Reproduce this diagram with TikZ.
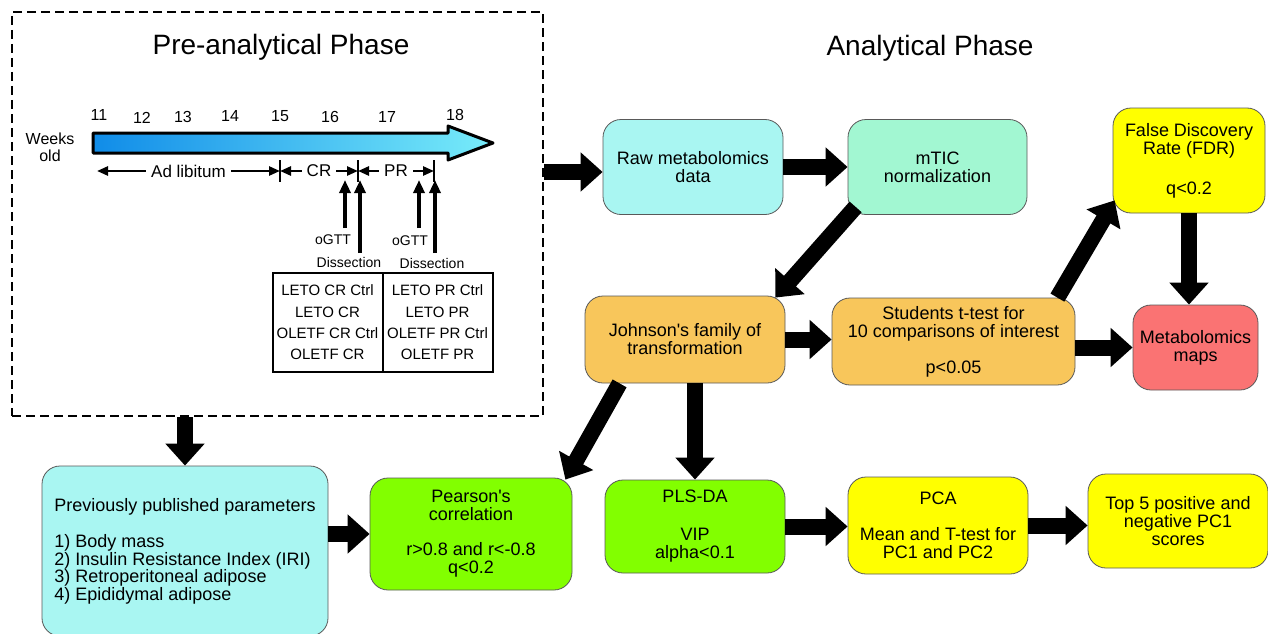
\documentclass[tikz,border=0pt]{standalone}
\usepackage{fontspec}
\setmainfont{Liberation Sans}
\usepackage{xcolor}
\definecolor{flow-cyan}{HTML}{A9F6F2}
\definecolor{flow-mint}{HTML}{A2F7D2}
\definecolor{flow-yellow}{HTML}{FFFF00}
\definecolor{flow-orange}{HTML}{F8C65B}
\definecolor{flow-red}{HTML}{FA7373}
\definecolor{flow-green}{HTML}{82FF00}
\definecolor{week-blue}{RGB}{16,140,232}
\definecolor{week-cyan}{RGB}{120,236,250}
\usepackage{tikz}
\usetikzlibrary{arrows.meta,positioning}

\tikzset{
  flowbox/.style={draw=black!65, line width=0.8pt, rounded corners=18pt, align=center,
    inner sep=0pt, font=\fontsize{18}{18}\selectfont},
  bigarrow/.style={line width=16pt, -{Triangle[length=22pt,width=38pt]}},
  thinarrow/.style={line width=3.5pt, -{Triangle[length=13pt,width=11pt]}},
  spanarrow/.style={line width=2.5pt, {Triangle[length=11pt,width=9pt]}-{Triangle[length=11pt,width=9pt]}},
  spantick/.style={line width=2.5pt},
  spanlabel/.style={fill=white, inner sep=5pt, font=\fontsize{17}{17}\selectfont},
  weeklabel/.style={inner sep=0pt, font=\fontsize{16}{17}\selectfont},
  smalllabel/.style={inner sep=0pt, font=\fontsize{14}{14}\selectfont},
  grouptable/.style={draw, line width=2pt, minimum width=110pt, minimum height=99pt,
    align=center, inner sep=0pt, font=\fontsize{15}{21.3}\selectfont},
  phasetitle/.style={inner sep=0pt, font=\fontsize{28}{30}\selectfont}
}

\begin{document}
\begin{tikzpicture}[x=1pt,y=-1pt]

    % Page size
    \useasboundingbox (0,0) rectangle (1268,634);
    \clip (0,0) rectangle (1268,634);

  % Pre-analytical frame and titles
  \node[draw, line width=2.5pt, dash pattern=on 9pt off 5pt, minimum width=531pt,
    minimum height=404pt, inner sep=0pt] (pre) at (277.5,214) {};
  \node[phasetitle] (pretitle) at (281,47) {Pre-analytical Phase};
  \node[phasetitle] (antitle) at (930,48) {Analytical Phase};

  % Time line
  \shadedraw[left color=week-blue, right color=week-cyan, line width=3pt, line join=round]
    (93,133) -- (448,133) -- (448,126) -- (493,143) -- (448,160) -- (448,153) -- (93,153) -- cycle;
  \node[weeklabel, align=center] (weeks) at (50,147) {Weeks\\old};
  \foreach \w/\x/\y in {11/99/115,12/142/118,13/183/117,14/230/116,15/280/116,16/330/117,17/387/117,18/455/115}
    \node[weeklabel] (w\w) at (\x,\y) {\w};

  % Feeding periods
  \coordinate (p0) at (97,171);
  \coordinate (p1) at (280,171);
  \coordinate (p2) at (358,171);
  \coordinate (p3) at (434,171);
  \draw[spanarrow] (p0) -- node[spanlabel] (adlib) {Ad libitum} (p1);
  \draw[spanarrow] (p1) -- node[spanlabel] (cr) {CR} (p2);
  \draw[spanarrow] (p2) -- node[spanlabel] (pr) {PR} (p3);
  \foreach \q in {p1,p2,p3}
    \draw[spantick] ([yshift=11pt]\q) -- ([yshift=-11pt]\q);

  % oGTT and dissection
  \coordinate (cr-ogtt) at (345,228);
  \coordinate (cr-cut) at (360,253);
  \coordinate (pr-ogtt) at (419,228);
  \coordinate (pr-cut) at (435,253);
  \draw[thinarrow] (cr-ogtt) -- ([yshift=-9pt]cr-ogtt |- p2);
  \draw[thinarrow] (cr-cut) -- ([yshift=-9pt]cr-cut |- p2);
  \draw[thinarrow] (pr-ogtt) -- ([yshift=-9pt]pr-ogtt |- p3);
  \draw[thinarrow] (pr-cut) -- ([yshift=-9pt]pr-cut |- p3);
  \node[smalllabel] (ogtt1) at (333,240) {oGTT};
  \node[smalllabel] (cut1) at (349,262) {Dissection};
  \node[smalllabel] (ogtt2) at (410,241) {oGTT};
  \node[smalllabel] (cut2) at (432,263) {Dissection};

  % Groups
  \node[grouptable] (crgroups) at (327.5,322.5) {LETO CR Ctrl\\LETO CR\\OLETF CR Ctrl\\OLETF CR};
  \node[grouptable] (prgroups) at (437.5,322.5) {LETO PR Ctrl\\LETO PR\\OLETF PR Ctrl\\OLETF PR};

  % Analytical boxes
  \node[flowbox, fill=flow-cyan, minimum width=180pt, minimum height=95pt] (raw) at (693,167)
    {Raw metabolomics\\data};
  \node[flowbox, fill=flow-mint, minimum width=179pt, minimum height=95pt] (mtic) at (937.5,167)
    {mTIC\\normalization};
  \node[flowbox, fill=flow-yellow, minimum width=152pt, minimum height=105pt] (fdr) at (1189,160.5)
    {False Discovery\\Rate (FDR)\\[22pt]q<0.2};
  \node[flowbox, fill=flow-orange, minimum width=200pt, minimum height=87pt] (johnson) at (685,339.5)
    {Johnson\textquotesingle s family of\\transformation};
  \node[flowbox, fill=flow-orange, minimum width=243pt, minimum height=87pt] (ttest) at (953.5,341.5)
    {Students t-test for\\10 comparisons of interest\\[18pt]p<0.05};
  \node[flowbox, fill=flow-red, minimum width=125pt, minimum height=85pt] (maps) at (1195.5,347.5)
    {Metabolomics\\maps};
  \node[flowbox, fill=flow-cyan, minimum width=286pt, minimum height=170pt, align=left,
    font=\fontsize{18}{17.5}\selectfont] (prev) at (185,551)
    {Previously published parameters\\[19pt]1) Body mass\\2) Insulin Resistance Index (IRI)\\3) Retroperitoneal adipose\\4) Epididymal adipose};
  \node[flowbox, fill=flow-green, minimum width=202pt, minimum height=112pt] (pearson) at (471,534)
    {Pearson\textquotesingle s\\correlation\\[17pt]r>0.8 and r<-0.8\\q<0.2};
  \node[flowbox, fill=flow-green, minimum width=180pt, minimum height=93pt] (plsda) at (695,526.5)
    {PLS-DA\\[20pt]VIP\\alpha<0.1};
  \node[flowbox, fill=flow-yellow, minimum width=180pt, minimum height=97pt] (pca) at (938,525.5)
    {PCA\\[18pt]Mean and T-test for\\PC1 and PC2};
  \node[flowbox, fill=flow-yellow, minimum width=180pt, minimum height=94pt] (top) at (1178,521)
    {Top 5 positive and\\negative PC1\\scores};

  % Draw the block arrows
  \draw[bigarrow] (pre.east |- raw.west) ++(0,5) -- ([yshift=-5pt]raw.west);
  \draw[bigarrow] (raw) -- (mtic);
  \draw[bigarrow] ([xshift=8pt,yshift=8pt]mtic.south west) -- ([xshift=-10pt,yshift=-2pt]johnson.north east);
  \draw[bigarrow] (johnson.east) -- (johnson.east -| ttest.west);
  \draw[bigarrow] ([xshift=-18pt]ttest.north east) -- ([xshift=2pt,yshift=13pt]fdr.south west);
  \draw[bigarrow] (ttest.east |- maps.west) -- (maps.west);
  \draw[bigarrow] (fdr.south) -- (fdr.south |- maps.north);
  \draw[bigarrow] ([xshift=35pt]johnson.south west) -- ([xshift=-7pt,yshift=-2pt]pearson.north east);
  \draw[bigarrow] (johnson.south -| plsda.north) -- (plsda.north);
  \draw[bigarrow] (pre.south -| prev.north) -- (prev.north);
  \draw[bigarrow] (prev.east |- pearson.west) -- (pearson.west);
  \draw[bigarrow] (plsda.east) -- (plsda.east -| pca.west);
  \draw[bigarrow] (pca.east) -- (pca.east -| top.west);

\end{tikzpicture}
\end{document}
